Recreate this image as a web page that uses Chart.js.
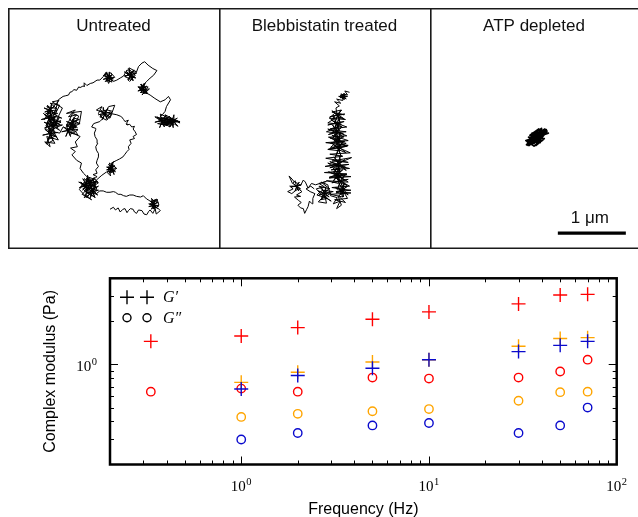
<!DOCTYPE html>
<html>
<head>
<meta charset="utf-8">
<script src="https://cdn.jsdelivr.net/npm/chart.js@4.4.0/dist/chart.umd.min.js"></script>
<style>
html, body { margin: 0; padding: 0; background: #fff; overflow: hidden; }
#page { position: relative; width: 638px; height: 517px; }
canvas { position: absolute; }
</style>
</head>
<body>
<div id="page">
  <canvas id="panel1" width="211" height="241" style="left:8px;top:8px"></canvas>
  <canvas id="panel2" width="211" height="241" style="left:219px;top:8px"></canvas>
  <canvas id="panel3" width="208" height="241" style="left:430px;top:8px"></canvas>
  <canvas id="modulus" width="638" height="267" style="left:0;top:250px"></canvas>
</div>
<script>
// ---- bead trajectories, [x, y] in um from the top-left corner of each panel ----
const untreatedPath = [
  [1.50,2.96],[1.55,2.93],[1.58,2.97],[1.62,2.94],[1.65,3.00],[1.69,2.96],[1.72,2.95],[1.75,3.01],[1.77,2.98],[1.80,2.95],
  [1.84,2.96],[1.86,3.00],[1.89,3.02],[1.92,2.97],[1.97,2.98],[2.00,3.03],[2.04,3.04],[2.07,2.99],[2.09,2.97],
  [2.13,3.02],[2.16,2.96],[2.12,2.91],[2.20,2.94],[2.24,2.98],[2.18,3.03],[2.15,2.88],[2.21,2.86],[2.14,2.83],[2.19,2.81],
  [2.22,2.90],[2.15,2.91],[2.07,2.92],[2.13,2.90],[2.19,2.86],[2.14,2.89],[2.11,2.96],[2.15,2.90],[2.15,2.83],[2.14,2.91],
  [2.15,2.96],[2.14,2.90],[2.10,2.84],[2.15,2.90],[2.20,2.95],[2.13,2.90],[2.07,2.88],[2.14,2.90],
  [2.11,2.80],[2.16,2.85],[2.09,2.88],[2.22,2.91],[2.13,2.95],[2.17,2.90],[2.10,2.84],[2.20,2.82],[2.12,2.86],[2.06,2.82],[2.04,2.81],
  [1.99,2.76],[1.95,2.78],[1.89,2.77],[1.84,2.75],[1.79,2.75],[1.74,2.77],[1.70,2.76],[1.66,2.74],[1.62,2.74],[1.58,2.71],
  [1.55,2.70],[1.50,2.71],[1.45,2.71],[1.40,2.69],[1.35,2.69],
  [1.30,2.73],[1.24,2.66],[1.33,2.62],[1.19,2.71],[1.27,2.78],[1.12,2.69],[1.21,2.60],[1.08,2.63],[1.17,2.55],[1.29,2.57],
  [1.27,2.60],[1.16,2.61],[1.05,2.64],[1.14,2.60],[1.22,2.54],[1.15,2.59],[1.10,2.68],[1.16,2.61],[1.17,2.49],[1.14,2.61],
  [1.16,2.70],[1.15,2.60],[1.10,2.51],[1.16,2.59],[1.23,2.67],[1.14,2.61],[1.04,2.56],[1.15,2.60],
  [1.17,2.46],[1.20,2.59],[1.30,2.64],[1.21,2.57],[1.08,2.60],[1.19,2.58],[1.27,2.49],[1.20,2.59],[1.16,2.70],[1.21,2.58],
  [1.32,2.55],[1.19,2.57],[1.12,2.51],[1.21,2.59],[1.25,2.69],[1.20,2.57],
  [1.14,2.75],[1.23,2.82],[1.09,2.74],[1.19,2.64],[1.31,2.68],[1.25,2.52],[1.11,2.57],[1.05,2.67],[1.16,2.79],[1.28,2.62],
  [1.22,2.61],[1.24,2.71],[1.32,2.75],[1.25,2.70],[1.15,2.72],[1.24,2.70],[1.29,2.63],[1.24,2.71],[1.21,2.79],[1.25,2.70],
  [1.33,2.68],[1.23,2.70],[1.18,2.65],[1.25,2.71],[1.28,2.79],[1.24,2.70],
  [1.20,2.49],[1.13,2.61],[1.24,2.71],[1.07,2.56],[1.18,2.68],[1.30,2.53],[1.22,2.76],[1.10,2.66],[1.26,2.59],[1.15,2.51],
  [1.33,2.57],[1.21,2.65],[1.12,2.79],[1.27,2.70],[1.18,2.58],[1.31,2.48],[1.25,2.45],
  [1.31,2.43],[1.29,2.38],[1.33,2.33],[1.30,2.28],[1.31,2.24],[1.33,2.19],[1.33,2.14],[1.30,2.09],[1.29,2.04],[1.32,1.99],
  [1.31,1.94],[1.28,1.89],[1.27,1.84],[1.29,1.79],[1.29,1.77],[1.23,1.75],[1.26,1.70],
  [1.35,1.67],[1.40,1.62],[1.33,1.55],[1.38,1.45],[1.30,1.50],[1.43,1.55],[1.35,1.60],[1.45,1.65],[1.52,1.57],[1.40,1.50],
  [1.40,1.46],[1.42,1.56],[1.50,1.60],[1.43,1.55],[1.33,1.57],[1.42,1.55],[1.47,1.48],[1.42,1.56],[1.39,1.64],[1.43,1.55],
  [1.51,1.53],[1.41,1.55],[1.36,1.50],[1.43,1.56],[1.46,1.64],[1.42,1.55],
  [1.48,1.45],[1.57,1.43],[1.50,1.62],[1.42,1.58],[1.37,1.52],[1.46,1.50],[1.54,1.52],[1.44,1.61],[1.50,1.55],[1.60,1.57],
  [1.65,1.59],[1.67,1.60],[1.70,1.64],[1.72,1.67],[1.77,1.65],[1.74,1.70],[1.75,1.72],[1.79,1.71],[1.82,1.75],[1.86,1.74],
  [1.84,1.78],[1.87,1.82],[1.89,1.86],[1.84,1.89],[1.86,1.92],[1.79,1.94],[1.81,1.99],[1.77,2.04],[1.78,2.08],[1.75,2.11],
  [1.72,2.15],[1.69,2.19],[1.64,2.22],[1.60,2.24],
  [1.52,2.28],[1.57,2.33],[1.48,2.36],[1.55,2.26],[1.50,2.43],[1.58,2.38],[1.46,2.41],[1.53,2.31],[1.56,2.45],[1.49,2.28],
  [1.60,2.36],[1.53,2.37],[1.45,2.38],[1.51,2.36],[1.57,2.32],[1.52,2.35],[1.49,2.42],[1.53,2.36],[1.53,2.29],[1.52,2.37],
  [1.53,2.42],[1.52,2.36],[1.48,2.30],[1.53,2.36],[1.58,2.41],[1.51,2.36],[1.45,2.34],[1.52,2.36],
  [1.54,2.40],[1.47,2.33],[1.51,2.47],[1.45,2.41],
  [1.38,2.46],[1.30,2.53],[1.22,2.50],[1.16,2.48],[1.11,2.43],
  [1.06,2.36],[1.08,2.28],[1.01,2.24],[0.94,2.16],[0.99,2.11],[0.92,2.06],[1.02,2.04],[0.99,1.97],[1.06,1.89],
  [0.96,1.84],[1.03,1.79],[0.91,1.77],[1.06,1.70],[0.94,1.65],[1.01,1.57],[0.89,1.60],[0.99,1.50],[0.86,1.55],[1.08,1.52],
  [1.05,1.70],[0.96,1.71],[0.87,1.73],[0.94,1.70],[1.01,1.65],[0.95,1.69],[0.91,1.77],[0.96,1.71],[0.97,1.61],[0.95,1.71],
  [0.96,1.78],[0.95,1.70],[0.91,1.63],[0.96,1.70],[1.02,1.76],[0.94,1.71],[0.86,1.67],[0.95,1.70],
  [0.86,1.71],[0.88,1.81],[0.96,1.85],[0.89,1.80],[0.79,1.82],[0.88,1.80],[0.93,1.73],[0.88,1.81],[0.85,1.89],[0.89,1.80],
  [0.97,1.78],[0.87,1.80],[0.82,1.75],[0.89,1.81],[0.92,1.89],[0.88,1.80],
  [0.93,1.72],[1.03,1.87],[0.88,1.82],[0.97,1.62],[1.05,1.64],[0.90,1.69],[1.00,1.76],[0.86,1.74],[0.95,1.55],[1.04,1.59],
  [0.92,1.86],[0.98,1.81],
  [0.81,1.75],[0.76,1.84],[0.67,1.82],[0.74,1.94],[0.57,1.89],[0.62,2.04],[0.54,1.97],[0.69,1.99],[0.59,1.82],[0.72,1.75],
  [0.80,1.72],[0.67,1.73],[0.54,1.76],[0.65,1.72],[0.74,1.65],[0.66,1.71],[0.60,1.82],[0.67,1.73],[0.68,1.59],[0.65,1.73],
  [0.68,1.83],[0.66,1.72],[0.60,1.62],[0.67,1.71],[0.76,1.80],[0.65,1.73],[0.53,1.68],[0.66,1.72],
  [0.60,1.74],[0.62,1.86],[0.72,1.90],[0.63,1.84],[0.51,1.87],[0.61,1.85],[0.68,1.77],[0.62,1.86],[0.58,1.96],[0.63,1.85],
  [0.73,1.83],[0.61,1.84],[0.54,1.78],[0.63,1.86],[0.66,1.95],[0.62,1.84],
  [0.57,1.70],[0.67,1.62],[0.54,1.57],[0.64,1.50],[0.57,1.45],[0.72,1.48],[0.62,1.40],[0.76,1.43],[0.69,1.57],[0.79,1.62],
  [0.68,1.59],[0.70,1.69],[0.77,1.72],[0.71,1.68],[0.61,1.69],[0.70,1.68],[0.75,1.62],[0.70,1.69],[0.67,1.76],[0.71,1.68],
  [0.78,1.66],[0.69,1.68],[0.64,1.63],[0.70,1.69],[0.73,1.76],[0.70,1.68],
  [0.58,1.51],[0.60,1.63],[0.70,1.67],[0.61,1.61],[0.49,1.64],[0.59,1.62],[0.66,1.54],[0.60,1.63],[0.56,1.73],[0.61,1.62],
  [0.71,1.60],[0.59,1.61],[0.52,1.55],[0.61,1.63],[0.64,1.72],[0.60,1.61],
  [0.62,1.65],[0.55,1.77],[0.70,1.88],[0.60,1.93],[0.66,1.73],[0.78,1.68],[0.58,1.60],[0.73,1.55],[0.61,1.52],[0.53,1.64],
  [0.72,1.50],[0.63,1.51],[0.54,1.53],[0.61,1.50],[0.68,1.45],[0.62,1.49],[0.58,1.57],[0.63,1.51],[0.64,1.41],[0.62,1.51],
  [0.63,1.58],[0.62,1.50],[0.58,1.43],[0.63,1.50],[0.69,1.56],[0.61,1.51],[0.53,1.47],[0.62,1.50],
  [0.68,1.44],[0.75,1.36],[0.65,1.38],[0.80,1.47],[0.71,1.66],[0.63,1.86],[0.56,2.00],[0.66,1.95],[0.60,1.74],[0.70,1.50],
  [0.74,1.35],[0.81,1.30],
  [0.85,1.29],[0.89,1.28],[0.91,1.24],[0.94,1.23],[0.97,1.20],[1.01,1.21],[1.04,1.16],[1.06,1.17],[1.10,1.15],[1.13,1.15],
  [1.12,1.10],[1.16,1.14],[1.21,1.11],[1.25,1.10],[1.28,1.08],[1.31,1.06],[1.35,1.06],
  [1.40,1.01],[1.45,0.94],[1.50,1.06],[1.43,1.08],[1.52,0.99],[1.48,1.11],[1.42,0.97],[1.55,1.04],[1.46,1.02],[1.51,0.95],
  [1.57,1.02],[1.49,1.03],[1.40,1.05],[1.47,1.02],[1.53,0.98],[1.48,1.01],[1.44,1.08],[1.49,1.02],[1.49,0.94],[1.48,1.03],
  [1.49,1.09],[1.48,1.02],[1.44,0.95],[1.49,1.02],[1.54,1.07],[1.47,1.02],[1.40,0.99],[1.48,1.02],
  [1.44,1.05],[1.53,1.09],[1.49,0.99],[1.55,1.08],
  [1.60,1.06],[1.65,1.03],[1.70,1.00],
  [1.75,0.91],[1.82,0.96],[1.72,1.01],[1.84,1.06],[1.77,0.89],[1.87,0.99],[1.79,1.08],[1.89,0.94],
  [1.78,0.88],[1.80,0.99],[1.88,1.03],[1.81,0.98],[1.71,1.00],[1.80,0.98],[1.85,0.91],[1.80,0.99],[1.77,1.07],[1.81,0.98],
  [1.89,0.96],[1.79,0.98],[1.74,0.93],[1.80,0.99],[1.84,1.07],[1.80,0.98],
  [1.74,0.96],[1.81,1.02],[1.76,1.05],[1.85,0.92],[1.80,0.98],[1.71,0.94],[1.86,1.03],[1.78,0.95],
  [1.89,0.94],[1.92,0.86],[1.97,0.81],[2.01,0.79],[2.06,0.84],[2.13,0.89],[2.19,0.92],[2.14,0.99],[2.09,1.03],[2.04,1.08],
  [1.99,1.13],[1.94,1.21],[2.04,1.21],[1.97,1.28],[2.06,1.16],[1.92,1.16],[2.01,1.25],
  [2.08,1.19],[2.00,1.20],[1.91,1.22],[1.98,1.19],[2.04,1.15],[1.99,1.18],[1.95,1.25],[2.00,1.19],[2.00,1.11],[1.99,1.20],
  [2.00,1.26],[1.99,1.19],[1.95,1.12],[2.00,1.19],[2.05,1.24],[1.98,1.19],[1.91,1.16],[1.99,1.19],
  [1.96,1.12],[2.03,1.18],[1.95,1.24],[2.05,1.26],[1.98,1.17],[2.02,1.11],[1.93,1.19],
  [2.09,1.28],[2.16,1.33],[2.24,1.38],[2.31,1.35],[2.36,1.30],[2.39,1.35],[2.33,1.45],[2.31,1.52],[2.27,1.57],
  [2.24,1.60],[2.33,1.65],[2.19,1.67],[2.43,1.62],[2.28,1.72],[2.48,1.67],[2.16,1.60],[2.38,1.75],[2.31,1.57],[2.53,1.69],
  [2.24,1.56],[2.26,1.67],[2.35,1.71],[2.27,1.65],[2.16,1.68],[2.25,1.66],[2.32,1.58],[2.26,1.67],[2.23,1.76],[2.27,1.66],
  [2.36,1.64],[2.25,1.65],[2.19,1.60],[2.27,1.67],[2.30,1.75],[2.26,1.65],
  [2.26,1.66],[2.41,1.70],[2.22,1.63],[2.36,1.61],[2.29,1.69],[2.45,1.65],[2.20,1.70],[2.34,1.73],[2.40,1.64],[2.27,1.62],
  [2.53,1.67],[2.43,1.68],[2.33,1.70],[2.41,1.67],[2.49,1.62],[2.42,1.66],[2.38,1.75],[2.43,1.68],[2.44,1.57],[2.41,1.68],
  [2.43,1.76],[2.42,1.67],[2.37,1.59],[2.43,1.66],[2.50,1.74],[2.41,1.68],[2.32,1.64],[2.42,1.67],
  [2.50,1.66],[2.32,1.68],[2.25,1.71],[2.44,1.72],[2.37,1.67]
];
const blebPath = [
  [1.92,1.24],[1.85,1.22],[1.89,1.28],[1.80,1.27],[1.86,1.33],[1.76,1.30],
  [1.89,1.30],[1.84,1.31],[1.78,1.32],[1.82,1.30],[1.87,1.27],[1.83,1.29],[1.81,1.34],[1.84,1.30],[1.84,1.25],[1.83,1.31],
  [1.84,1.35],[1.83,1.30],[1.80,1.26],[1.84,1.30],[1.87,1.34],[1.82,1.30],[1.78,1.28],[1.83,1.30],
  [1.82,1.36],[1.73,1.34],[1.79,1.40],[1.70,1.38],[1.77,1.44],[1.72,1.47],
  [1.72,1.47],[1.74,1.59],[1.84,1.63],[1.75,1.57],[1.63,1.60],[1.73,1.58],[1.80,1.50],[1.74,1.59],[1.70,1.69],[1.75,1.58],
  [1.85,1.56],[1.73,1.57],[1.66,1.51],[1.75,1.59],[1.78,1.68],[1.74,1.57],
  [1.80,1.50],[1.66,1.53],[1.84,1.57],[1.70,1.55],[1.62,1.62],[1.86,1.64],[1.74,1.60],[1.60,1.69],[1.80,1.71],[1.67,1.66],
  [1.69,1.58],[1.72,1.71],[1.82,1.76],[1.73,1.69],[1.60,1.72],[1.71,1.70],[1.79,1.61],[1.72,1.71],[1.68,1.82],[1.73,1.70],
  [1.84,1.67],[1.71,1.69],[1.64,1.63],[1.73,1.71],[1.77,1.81],[1.72,1.69],
  [1.88,1.75],[1.63,1.78],[1.77,1.74],[1.58,1.82],[1.83,1.85],[1.70,1.80],
  [1.87,1.82],[1.74,1.83],[1.61,1.86],[1.72,1.82],[1.81,1.75],[1.73,1.81],[1.67,1.92],[1.74,1.83],[1.75,1.69],[1.72,1.83],
  [1.75,1.93],[1.73,1.82],[1.67,1.72],[1.74,1.81],[1.83,1.90],[1.72,1.83],[1.60,1.78],[1.73,1.82],
  [1.88,1.88],[1.61,1.90],[1.76,1.93],[1.66,1.87],
  [1.90,1.95],[1.77,1.96],[1.64,1.99],[1.75,1.95],[1.84,1.88],[1.76,1.94],[1.70,2.05],[1.77,1.96],[1.78,1.82],[1.75,1.96],
  [1.78,2.06],[1.76,1.95],[1.70,1.85],[1.77,1.94],[1.86,2.03],[1.75,1.96],[1.63,1.91],[1.76,1.95],
  [1.85,1.96],[1.57,1.98],[1.72,2.00],[1.90,2.02],[1.64,2.05],[1.80,1.91],[1.69,1.95],[1.87,1.99],[1.60,2.08],[1.78,2.10],
  [1.72,1.92],[1.75,2.08],[1.87,2.13],[1.77,2.05],[1.61,2.08],[1.74,2.06],[1.83,1.96],[1.75,2.08],[1.71,2.20],[1.77,2.06],
  [1.89,2.03],[1.74,2.05],[1.65,1.98],[1.76,2.08],[1.80,2.19],[1.75,2.05],
  [1.93,2.13],[1.63,2.15],[1.82,2.18],[1.57,2.21],[1.75,2.24],[1.90,2.27],[1.66,2.25],[1.95,2.20],[1.72,2.30],[1.56,2.33],
  [1.91,2.30],[1.78,2.32],[1.63,2.35],[1.75,2.30],[1.85,2.23],[1.76,2.29],[1.70,2.41],[1.78,2.31],[1.78,2.17],[1.75,2.32],
  [1.78,2.42],[1.76,2.30],[1.69,2.19],[1.78,2.29],[1.87,2.39],[1.75,2.31],[1.63,2.26],[1.76,2.30],
  [1.86,2.34],[1.65,2.38],[1.92,2.36],[1.60,2.28],[1.79,2.40],[1.55,2.42],[1.88,2.44],[1.70,2.46],[1.94,2.48],[1.62,2.50],
  [1.88,2.45],[1.75,2.46],[1.62,2.49],[1.73,2.45],[1.82,2.38],[1.74,2.44],[1.68,2.55],[1.75,2.46],[1.76,2.32],[1.73,2.46],
  [1.76,2.56],[1.74,2.45],[1.68,2.35],[1.75,2.44],[1.84,2.53],[1.73,2.46],[1.61,2.41],[1.74,2.45],
  [1.83,2.52],[1.68,2.41],[1.90,2.56],[1.58,2.54],[1.76,2.58],
  [1.75,2.43],[1.78,2.56],[1.88,2.61],[1.79,2.54],[1.66,2.57],[1.77,2.55],[1.85,2.46],[1.78,2.56],[1.74,2.67],[1.79,2.55],
  [1.90,2.52],[1.77,2.54],[1.70,2.48],[1.79,2.56],[1.83,2.66],[1.78,2.54],
  [1.92,2.62],[1.66,2.64],[1.85,2.67],[1.72,2.70],[1.94,2.72],[1.64,2.74],[1.82,2.78],[1.77,2.66],
  [1.94,2.68],[1.83,2.69],[1.72,2.72],[1.81,2.68],[1.89,2.62],[1.82,2.67],[1.77,2.76],[1.83,2.69],[1.84,2.57],[1.81,2.69],
  [1.83,2.78],[1.82,2.68],[1.77,2.59],[1.83,2.67],[1.90,2.75],[1.81,2.69],[1.71,2.64],[1.82,2.68],
  [1.89,2.80],[1.70,2.82],[1.86,2.86],[1.75,2.76],[1.80,2.90],[1.73,2.95],[1.78,2.84],[1.68,2.88],[1.74,2.79],[1.64,2.76],
  [1.60,2.60],[1.50,2.56],[1.63,2.66],[1.47,2.62],[1.56,2.72],[1.68,2.70],[1.52,2.68],[1.44,2.75],[1.60,2.80],[1.49,2.82],
  [1.65,2.72],[1.56,2.73],[1.47,2.75],[1.54,2.72],[1.61,2.67],[1.55,2.71],[1.51,2.79],[1.56,2.73],[1.57,2.63],[1.55,2.73],
  [1.56,2.80],[1.55,2.72],[1.51,2.65],[1.56,2.72],[1.62,2.78],[1.54,2.73],[1.46,2.69],[1.55,2.72],
  [1.58,2.87],[1.46,2.85],[1.54,2.77],[1.65,2.84],[1.50,2.74],[1.43,2.66],[1.55,2.63],[1.47,2.58],[1.58,2.55],[1.42,2.60],
  [1.36,2.58],[1.31,2.65],[1.27,2.56],[1.24,2.53],[1.20,2.61],[1.16,2.58],[1.11,2.56],[1.06,2.50],[1.03,2.47],[1.08,2.58],
  [1.12,2.54],[1.14,2.63],[1.20,2.66],[1.15,2.62],[1.06,2.63],[1.14,2.62],[1.18,2.56],[1.14,2.63],[1.12,2.69],[1.15,2.62],
  [1.21,2.60],[1.13,2.62],[1.09,2.58],[1.15,2.63],[1.17,2.69],[1.14,2.62],
  [1.04,2.62],[1.09,2.66],[1.01,2.70],[1.07,2.73],[1.12,2.69],[1.17,2.66],[1.22,2.70],[1.14,2.75],[1.20,2.77],[1.11,2.78],
  [1.17,2.83],[1.21,2.86],[1.16,2.90],[1.20,2.94],[1.24,2.95],[1.26,3.02],[1.29,2.96],[1.31,2.92],[1.33,2.84],[1.37,2.88],
  [1.38,2.80],[1.41,2.73],[1.34,2.70],[1.28,2.66],[1.35,2.62],[1.40,2.66]
];
const atpPath = [
  [1.43,1.99],[1.50,1.91],[1.46,2.02],[1.58,1.86],[1.49,1.96],[1.66,1.80],[1.55,1.93],[1.44,1.95],[1.62,1.88],[1.71,1.79],
  [1.53,1.99],[1.47,1.92],[1.60,1.92],[1.68,1.84],[1.52,1.95],[1.42,2.01],[1.64,1.81],[1.57,1.95],[1.49,1.89],[1.70,1.83],
  [1.56,1.89],[1.45,1.98],[1.61,1.85],[1.54,1.97],[1.67,1.87],[1.51,1.93],[1.59,1.83],[1.48,2.00],[1.65,1.90],[1.72,1.81],
  [1.53,1.88],[1.46,1.95],[1.63,1.91],[1.58,1.90],[1.50,1.98],[1.69,1.78],[1.55,1.86],[1.44,2.02],[1.62,1.94],[1.67,1.82],
  [1.47,1.87],[1.60,1.78],[1.66,1.94],[1.53,2.03],[1.41,1.95],[1.74,1.84],[1.57,1.88],
  [1.50,1.84],[1.62,1.98],[1.45,1.90],[1.68,1.92],[1.56,2.02],[1.64,1.77],[1.52,1.86],[1.60,1.96]
];
const scaleBarLength = 1; // um

// ---- complex modulus (Pa) vs frequency (Hz) ----
const freqUntreated = [0.33, 1, 2, 5, 10, 30, 50, 70];
const freqTreated = [1, 2, 5, 10, 30, 50, 70];
const untreatedGp  = [1.45, 1.58, 1.81, 2.07, 2.33, 2.65, 3.06, 3.09];
const untreatedGpp = [0.645, 0.678, 0.645, 0.81, 0.797, 0.81, 0.893, 1.08];
const blebGp  = [0.75, 0.883, 1.04, 1.08, 1.34, 1.52, 1.54];
const blebGpp = [0.43, 0.452, 0.471, 0.488, 0.558, 0.64, 0.645];
const atpGp  = [0.674, 0.837, 0.942, 1.08, 1.23, 1.36, 1.45];
const atpGpp = [0.299, 0.332, 0.375, 0.39, 0.332, 0.375, 0.50];
const xTickExps = [0, 1, 2];
const yTickExps = [0];

const PX_PER_UM = 68;
const RED = '#ff0000', ORANGE = '#ffa500', BLUE = '#0a0acd';
const SANS = '"Liberation Sans", Arial, sans-serif';
const SERIF = '"Liberation Serif", "DejaVu Serif", serif';

const panelPlugin = {
  id: 'panelFrame',
  afterDraw(chart, args, opts) {
    const ctx = chart.ctx, W = chart.width, H = chart.height;
    ctx.save();
    ctx.strokeStyle = '#1a1a1a';
    ctx.lineWidth = 1.6;
    ctx.beginPath();
    ctx.moveTo(0.8, H);
    ctx.lineTo(0.8, 0.8);
    ctx.lineTo(W, 0.8);
    ctx.moveTo(0, H - 0.8);
    ctx.lineTo(W, H - 0.8);
    ctx.stroke();
    ctx.fillStyle = '#111';
    ctx.font = '17px ' + SANS;
    ctx.textAlign = 'center';
    ctx.textBaseline = 'alphabetic';
    ctx.fillText(opts.text, W / 2, 23);
    if (opts.barStart !== undefined) {
      const sx = chart.scales.x, sy = chart.scales.y;
      const cx = sx.getPixelForValue(opts.barStart + scaleBarLength / 2) - 2;
      ctx.fillText(scaleBarLength + ' \u03bcm', cx, sy.getPixelForValue(opts.barY) - 10);
    }
    ctx.restore();
  }
};

function makePanel(id, title, path, lw, bar) {
  const canvas = document.getElementById(id);
  const datasets = [{
    data: path.map(p => ({ x: p[0], y: p[1] })),
    showLine: true, borderColor: '#000', borderWidth: lw,
    borderJoinStyle: 'round', pointRadius: 0, tension: 0
  }];
  if (bar) {
    datasets.push({
      data: [{ x: bar.barStart, y: bar.barY }, { x: bar.barStart + scaleBarLength, y: bar.barY }],
      showLine: true, borderColor: '#000', borderWidth: 3.2,
      borderCapStyle: 'butt', pointRadius: 0
    });
  }
  new Chart(canvas, {
    type: 'scatter',
    data: { datasets: datasets },
    options: {
      responsive: false, animation: false, events: [],
      layout: { padding: 0 },
      plugins: {
        legend: { display: false }, tooltip: { enabled: false },
        panelFrame: Object.assign({ text: title }, bar || {})
      },
      scales: {
        x: { type: 'linear', display: false, min: 0, max: canvas.width / PX_PER_UM },
        y: { type: 'linear', display: false, min: 0, max: canvas.height / PX_PER_UM, reverse: true }
      }
    },
    plugins: [panelPlugin]
  });
}

makePanel('panel1', 'Untreated', untreatedPath, 1);
makePanel('panel2', 'Blebbistatin treated', blebPath, 1);
makePanel('panel3', 'ATP depleted', atpPath, 1.8, { barStart: 1.88, barY: 3.31 });

// ---- bottom chart ----
function drawPower(ctx, exp, x, baseline, align) {
  const baseFont = '15px ' + SERIF, supFont = '10.5px ' + SERIF;
  ctx.font = baseFont;
  const wb = ctx.measureText('10').width;
  ctx.font = supFont;
  const ws = ctx.measureText(String(exp)).width;
  const total = wb + ws + 0.5;
  const start = align === 'center' ? x - total / 2 : x - total;
  ctx.textAlign = 'left';
  ctx.textBaseline = 'alphabetic';
  ctx.font = baseFont;
  ctx.fillText('10', start, baseline);
  ctx.font = supFont;
  ctx.fillText(String(exp), start + wb + 0.5, baseline - 6);
}

const modulusPlugin = {
  id: 'modulusFrame',
  afterDraw(chart) {
    const ctx = chart.ctx, a = chart.chartArea;
    const sx = chart.scales.x, sy = chart.scales.y;
    ctx.save();
    ctx.strokeStyle = '#000';
    ctx.fillStyle = '#000';
    ctx.lineWidth = 1;
    ctx.beginPath();
    for (let d = -1; d <= 2; d++) {
      for (let k = 1; k <= 9; k++) {
        const v = k * Math.pow(10, d);
        if (v <= sx.min * 1.001 || v >= sx.max * 0.999) continue;
        const p = Math.round(sx.getPixelForValue(v)) + 0.5;
        const len = k === 1 ? 8 : 4;
        ctx.moveTo(p, a.bottom); ctx.lineTo(p, a.bottom - len);
        ctx.moveTo(p, a.top); ctx.lineTo(p, a.top + len);
      }
    }
    for (let d = -1; d <= 0; d++) {
      for (let k = 1; k <= 9; k++) {
        const v = k * Math.pow(10, d);
        if (v <= sy.min * 1.001 || v >= sy.max * 0.999) continue;
        const p = Math.round(sy.getPixelForValue(v)) + 0.5;
        const len = k === 1 ? 8 : 4;
        ctx.moveTo(a.left, p); ctx.lineTo(a.left + len, p);
        ctx.moveTo(a.right, p); ctx.lineTo(a.right - len, p);
      }
    }
    ctx.stroke();
    ctx.lineWidth = 2.5;
    ctx.strokeRect(a.left, a.top, a.right - a.left, a.bottom - a.top);

    xTickExps.forEach(e => drawPower(ctx, e, sx.getPixelForValue(Math.pow(10, e)), a.bottom + 26.5, 'center'));
    yTickExps.forEach(e => drawPower(ctx, e, a.left - 13, sy.getPixelForValue(Math.pow(10, e)) + 7, 'right'));

    ctx.font = '16px ' + SANS;
    ctx.textAlign = 'center';
    ctx.textBaseline = 'alphabetic';
    ctx.fillText('Frequency (Hz)', (a.left + a.right) / 2, a.bottom + 49.5);
    ctx.save();
    ctx.translate(55, (a.top + a.bottom) / 2);
    ctx.rotate(-Math.PI / 2);
    ctx.fillText('Complex modulus (Pa)', 0, 0);
    ctx.restore();

    // legend: marker style key
    const mx = [a.left + 17, a.left + 37];
    const r1 = a.top + 19, r2 = a.top + 39.5;
    ctx.lineWidth = 1.4;
    ctx.beginPath();
    mx.forEach(x => {
      ctx.moveTo(x - 7, r1); ctx.lineTo(x + 7, r1);
      ctx.moveTo(x, r1 - 7); ctx.lineTo(x, r1 + 7);
    });
    ctx.stroke();
    mx.forEach(x => {
      ctx.beginPath();
      ctx.arc(x, r2, 4, 0, Math.PI * 2);
      ctx.stroke();
    });
    ctx.font = 'italic 16px ' + SERIF;
    ctx.textAlign = 'left';
    ctx.fillText('G\u2032', a.left + 53, a.top + 24);
    ctx.fillText('G\u2033', a.left + 53, a.top + 45);
    ctx.restore();
  }
};

function pts(f, v) { return f.map((x, i) => ({ x: x, y: v[i] })); }
function storage(f, v, color) {
  return { data: pts(f, v), pointStyle: 'cross', pointRadius: 7, borderColor: color,
           backgroundColor: color, pointBorderWidth: 1.4, showLine: false };
}
function loss(f, v, color) {
  return { data: pts(f, v), pointStyle: 'circle', pointRadius: 4.2, borderColor: color,
           backgroundColor: 'rgba(0,0,0,0)', pointBorderWidth: 1.4, showLine: false };
}

new Chart(document.getElementById('modulus'), {
  type: 'scatter',
  data: {
    datasets: [
      storage(freqTreated, atpGp, BLUE), loss(freqTreated, atpGpp, BLUE),
      storage(freqTreated, blebGp, ORANGE), loss(freqTreated, blebGpp, ORANGE),
      storage(freqUntreated, untreatedGp, RED), loss(freqUntreated, untreatedGpp, RED)
    ]
  },
  options: {
    responsive: false, animation: false, events: [],
    layout: { padding: { left: 110, right: 21.3, top: 28.3, bottom: 52.5 } },
    plugins: { legend: { display: false }, tooltip: { enabled: false } },
    scales: {
      x: { type: 'logarithmic', display: false, min: 0.2, max: 100 },
      y: { type: 'logarithmic', display: false, min: 0.2, max: 4 }
    }
  },
  plugins: [modulusPlugin]
});
</script>
</body>
</html>
